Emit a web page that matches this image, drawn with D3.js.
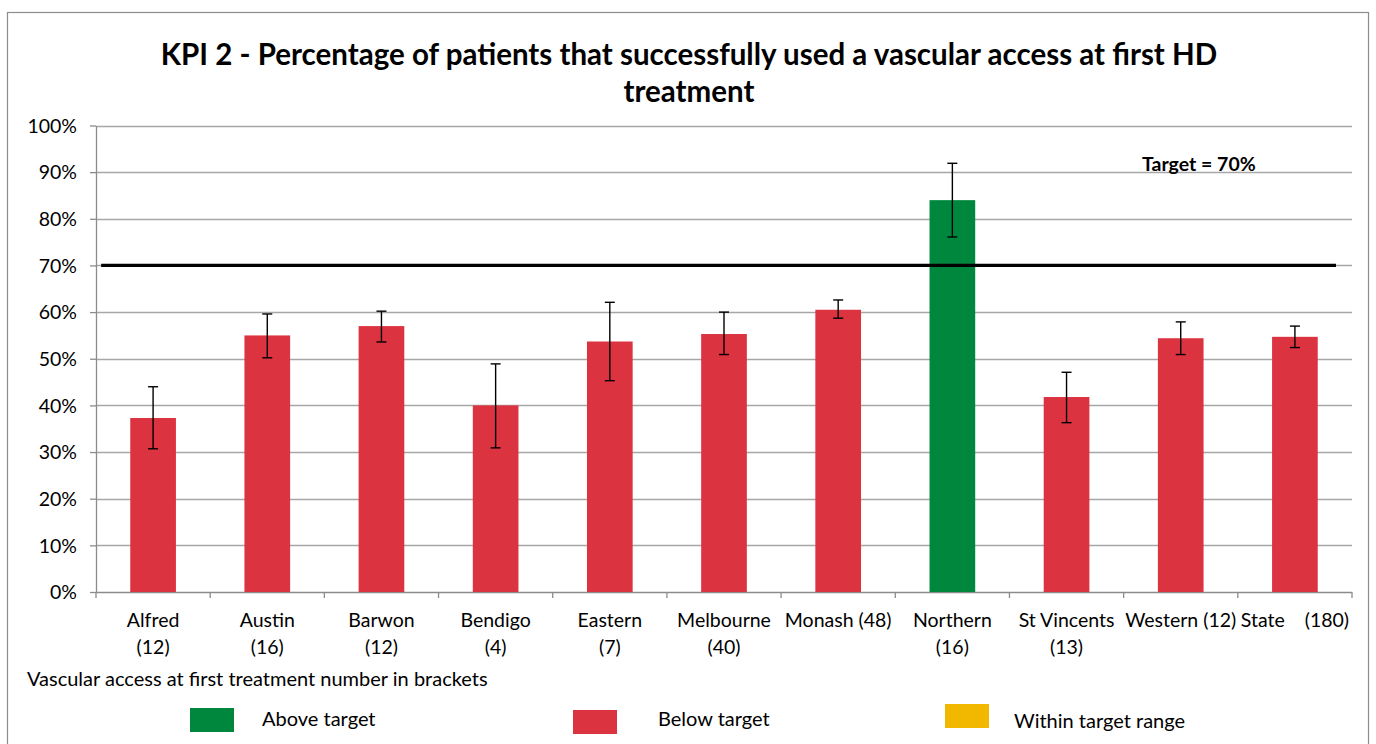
<!DOCTYPE html>
<html><head><meta charset="utf-8">
<script src="https://cdn.jsdelivr.net/npm/d3@7/dist/d3.min.js"></script>
<style>body{margin:0;background:#fff}svg{display:block}text{font-family:Lato,sans-serif;fill:#000}</style>
</head><body><svg id="c" width="1376" height="744"></svg>
<script>
const categories = ["Alfred","Austin","Barwon","Bendigo","Eastern","Melbourne","Monash","Northern","St Vincents","Western","State"];
const labelLines = [["Alfred","(12)"],["Austin","(16)"],["Barwon","(12)"],["Bendigo","(4)"],["Eastern","(7)"],["Melbourne","(40)"],["Monash (48)"],["Northern","(16)"],["St Vincents","(13)"],["Western (12)"],["State    (180)"]];
const values = [37.3, 55.0, 57.0, 40.0, 53.7, 55.3, 60.5, 84.0, 41.8, 54.4, 54.7];
const errLow = [30.7, 50.2, 53.6, 30.9, 45.3, 50.9, 58.7, 76.1, 36.3, 50.9, 52.4];
const errHigh = [44.0, 59.6, 60.2, 48.9, 62.1, 60.0, 62.6, 91.9, 47.1, 57.9, 57.0];
const status = ["below","below","below","below","below","below","below","above","below","below","below"];
const target = 70;
const yTicks = [0,10,20,30,40,50,60,70,80,90,100];
const legendItems = [["above","Above target"],["below","Below target"],["within","Within target range"]];
const colors = {above:"#00873E", below:"#DC3340", within:"#F2B800"};

const svg = d3.select("#c");
svg.append("rect").attr("x",7.5).attr("y",12.5).attr("width",1361).attr("height",760)
  .attr("fill","none").attr("stroke","#8c8c8c").attr("stroke-width",1.2);

const L=96, R=1352, T=125.5, B=592;
const x = d3.scaleBand().domain(categories).range([L,R]).paddingInner(0.6).paddingOuter(0.3);
const pos = d3.scaleLinear().domain([0, categories.length]).range([L,R]);
const y = d3.scaleLinear().domain([0,100]).range([B,T]);

// title
const title = svg.append("text").attr("text-anchor","middle").style("font-weight","bold").style("font-size","29.5px");
title.append("tspan").attr("x",689).attr("y",65).text("KPI 2 - Percentage of patients that successfully used a vascular access at first HD");
title.append("tspan").attr("x",689).attr("y",102).text("treatment");

// gridlines
svg.append("g").selectAll("line").data(yTicks.filter(d=>d>0)).join("line")
  .attr("x1",L).attr("x2",R).attr("y1",d=>Math.round(y(d))+0.5).attr("y2",d=>Math.round(y(d))+0.5)
  .attr("stroke","#a6a6a6").attr("stroke-width",1.3);

// y axis
const ya = svg.append("g").attr("transform",`translate(${L},0)`)
  .call(d3.axisLeft(y).tickValues(yTicks).tickFormat(d=>d+"%").tickSize(6).tickSizeOuter(0));
ya.select(".domain").attr("stroke","#8c8c8c").attr("stroke-width",1.3);
ya.selectAll(".tick line").attr("stroke","#8c8c8c").attr("stroke-width",1.3);
ya.selectAll(".tick text").style("font-size","19.5px").attr("x",-19).attr("dy","0.35em").style("font-family","Lato,sans-serif");

// x axis
svg.append("line").attr("x1",L).attr("x2",R).attr("y1",B+0.5).attr("y2",B+0.5).attr("stroke","#8c8c8c").attr("stroke-width",1.3);
svg.append("g").selectAll("line").data(d3.range(categories.length+1)).join("line")
  .attr("x1",d=>pos(d)).attr("x2",d=>pos(d)).attr("y1",B).attr("y2",B+6).attr("stroke","#8c8c8c").attr("stroke-width",1.3);

// bars
svg.append("g").selectAll("rect").data(categories).join("rect")
  .attr("x",d=>x(d)).attr("width",x.bandwidth())
  .attr("y",(d,i)=>y(values[i])).attr("height",(d,i)=>B-y(values[i]))
  .attr("fill",(d,i)=>colors[status[i]]);

// target line
svg.append("line").attr("x1",pos(0.045)).attr("x2",pos(10.86)).attr("y1",y(target)).attr("y2",y(target))
  .attr("stroke","#000").attr("stroke-width",3.2);
svg.append("text").attr("x",1142).attr("y",171).style("font-weight","bold").style("font-size","19.5px").text("Target = "+target+"%");

// error bars
const eg = svg.append("g").attr("stroke","#000").attr("stroke-width",1.4);
categories.forEach((c,i)=>{
  const cx = x(c)+x.bandwidth()/2;
  eg.append("line").attr("x1",cx).attr("x2",cx).attr("y1",y(errHigh[i])).attr("y2",y(errLow[i]));
  eg.append("line").attr("x1",cx-5).attr("x2",cx+5).attr("y1",y(errHigh[i])).attr("y2",y(errHigh[i]));
  eg.append("line").attr("x1",cx-5).attr("x2",cx+5).attr("y1",y(errLow[i])).attr("y2",y(errLow[i]));
});

// category labels
const lg = svg.append("g");
categories.forEach((c,i)=>{
  const t = lg.append("text").attr("text-anchor","middle").style("font-size","19.5px").attr("xml:space","preserve");
  labelLines[i].forEach((ln,j)=>t.append("tspan").attr("x",x(c)+x.bandwidth()/2).attr("y",627+j*27).text(ln));
});

svg.append("text").attr("x",27).attr("y",686).style("font-size","20px").text("Vascular access at first treatment number in brackets");

// legend
const legPos = d3.scaleOrdinal().domain(["above","below","within"]).range([[190,708,262,726],[573,710,658,726],[945,704,1014,728]]);
legendItems.forEach(([k,label])=>{
  const p = legPos(k);
  svg.append("rect").attr("x",p[0]).attr("y",p[1]).attr("width",44).attr("height",24).attr("fill",colors[k]);
  svg.append("text").attr("x",p[2]).attr("y",p[3]).style("font-size","20px").text(label);
});
</script></body></html>
